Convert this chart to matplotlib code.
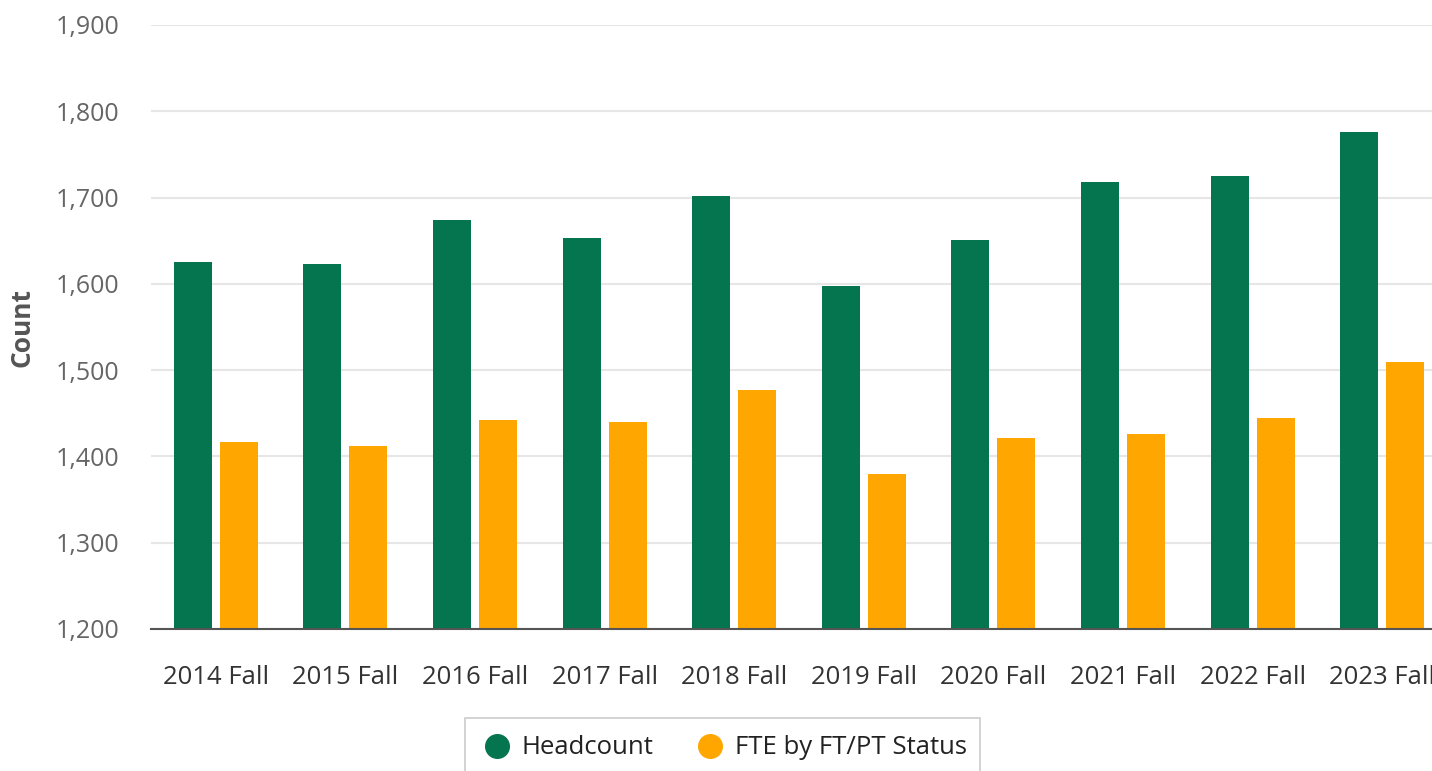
import matplotlib.pyplot as plt
from matplotlib.patches import Rectangle
from matplotlib.lines import Line2D
import numpy as np

plt.rcParams["font.family"] = ["Open Sans", "DejaVu Sans"]

terms = ["2014 Fall", "2015 Fall", "2016 Fall", "2017 Fall", "2018 Fall",
         "2019 Fall", "2020 Fall", "2021 Fall", "2022 Fall", "2023 Fall"]
headcount = [1625, 1623, 1674, 1653, 1702, 1597, 1651, 1718, 1725, 1776]
fte = [1417, 1412, 1442, 1440, 1477, 1380, 1421, 1426, 1445, 1509]

green = "#04754e"
orange = "#ffa600"

W, H = 1432, 771
fig = plt.figure(figsize=(W / 100, H / 100), dpi=100)
# plot area runs past the right edge, as in the original screenshot
ax = fig.add_axes([151 / W, 1 - 629 / H, 1296 / W, (629 - 25) / H])

x = np.arange(len(terms))
bw = 0.293
off = 0.177
ax.bar(x - off, headcount, bw, color=green, zorder=3)
ax.bar(x + off, fte, bw, color=orange, zorder=3)

ax.set_xlim(-0.5, len(terms) - 0.5)
ax.set_ylim(1200, 1900)
ax.set_yticks(range(1200, 1901, 100))
ax.set_yticklabels([f"{v:,}" for v in range(1200, 1901, 100)])
ax.set_xticks(x)
ax.set_xticklabels(terms)
ax.yaxis.grid(True, color="#e6e6e6", linewidth=1.5, zorder=0)
ax.tick_params(axis="y", length=0, pad=23, labelsize=18, labelcolor="#666666")
ax.tick_params(axis="x", length=0, pad=26, labelsize=18.5, labelcolor="#333333")
for s in ["top", "right", "left"]:
    ax.spines[s].set_visible(False)
ax.spines["bottom"].set_color("#555555")
ax.spines["bottom"].set_linewidth(1.5)
ax.spines["bottom"].set_zorder(4)

fig.text(22 / W, 1 - 327 / H, "Count", rotation=90, ha="center", va="center",
         fontsize=19, fontweight="bold", color="#555555")

# legend box runs off the bottom of the image
fig.patches.append(Rectangle((465 / W, -0.05), (980 - 465) / W, 0.05 + (771 - 718) / H,
                             transform=fig.transFigure, facecolor="white",
                             edgecolor="#cccccc", linewidth=1.2))
handles = [Line2D([], [], marker="o", linestyle="", markersize=17, color=green),
           Line2D([], [], marker="o", linestyle="", markersize=17, color=orange)]
fig.legend(handles, ["Headcount", "FTE by FT/PT Status"], loc="center",
           bbox_to_anchor=(724 / W, 1 - 748 / H), ncol=2, frameon=False,
           fontsize=18.5, handlelength=1.2, handletextpad=0.37, columnspacing=1.58,
           labelcolor="#222222")

fig.savefig("out.png", dpi=100)
